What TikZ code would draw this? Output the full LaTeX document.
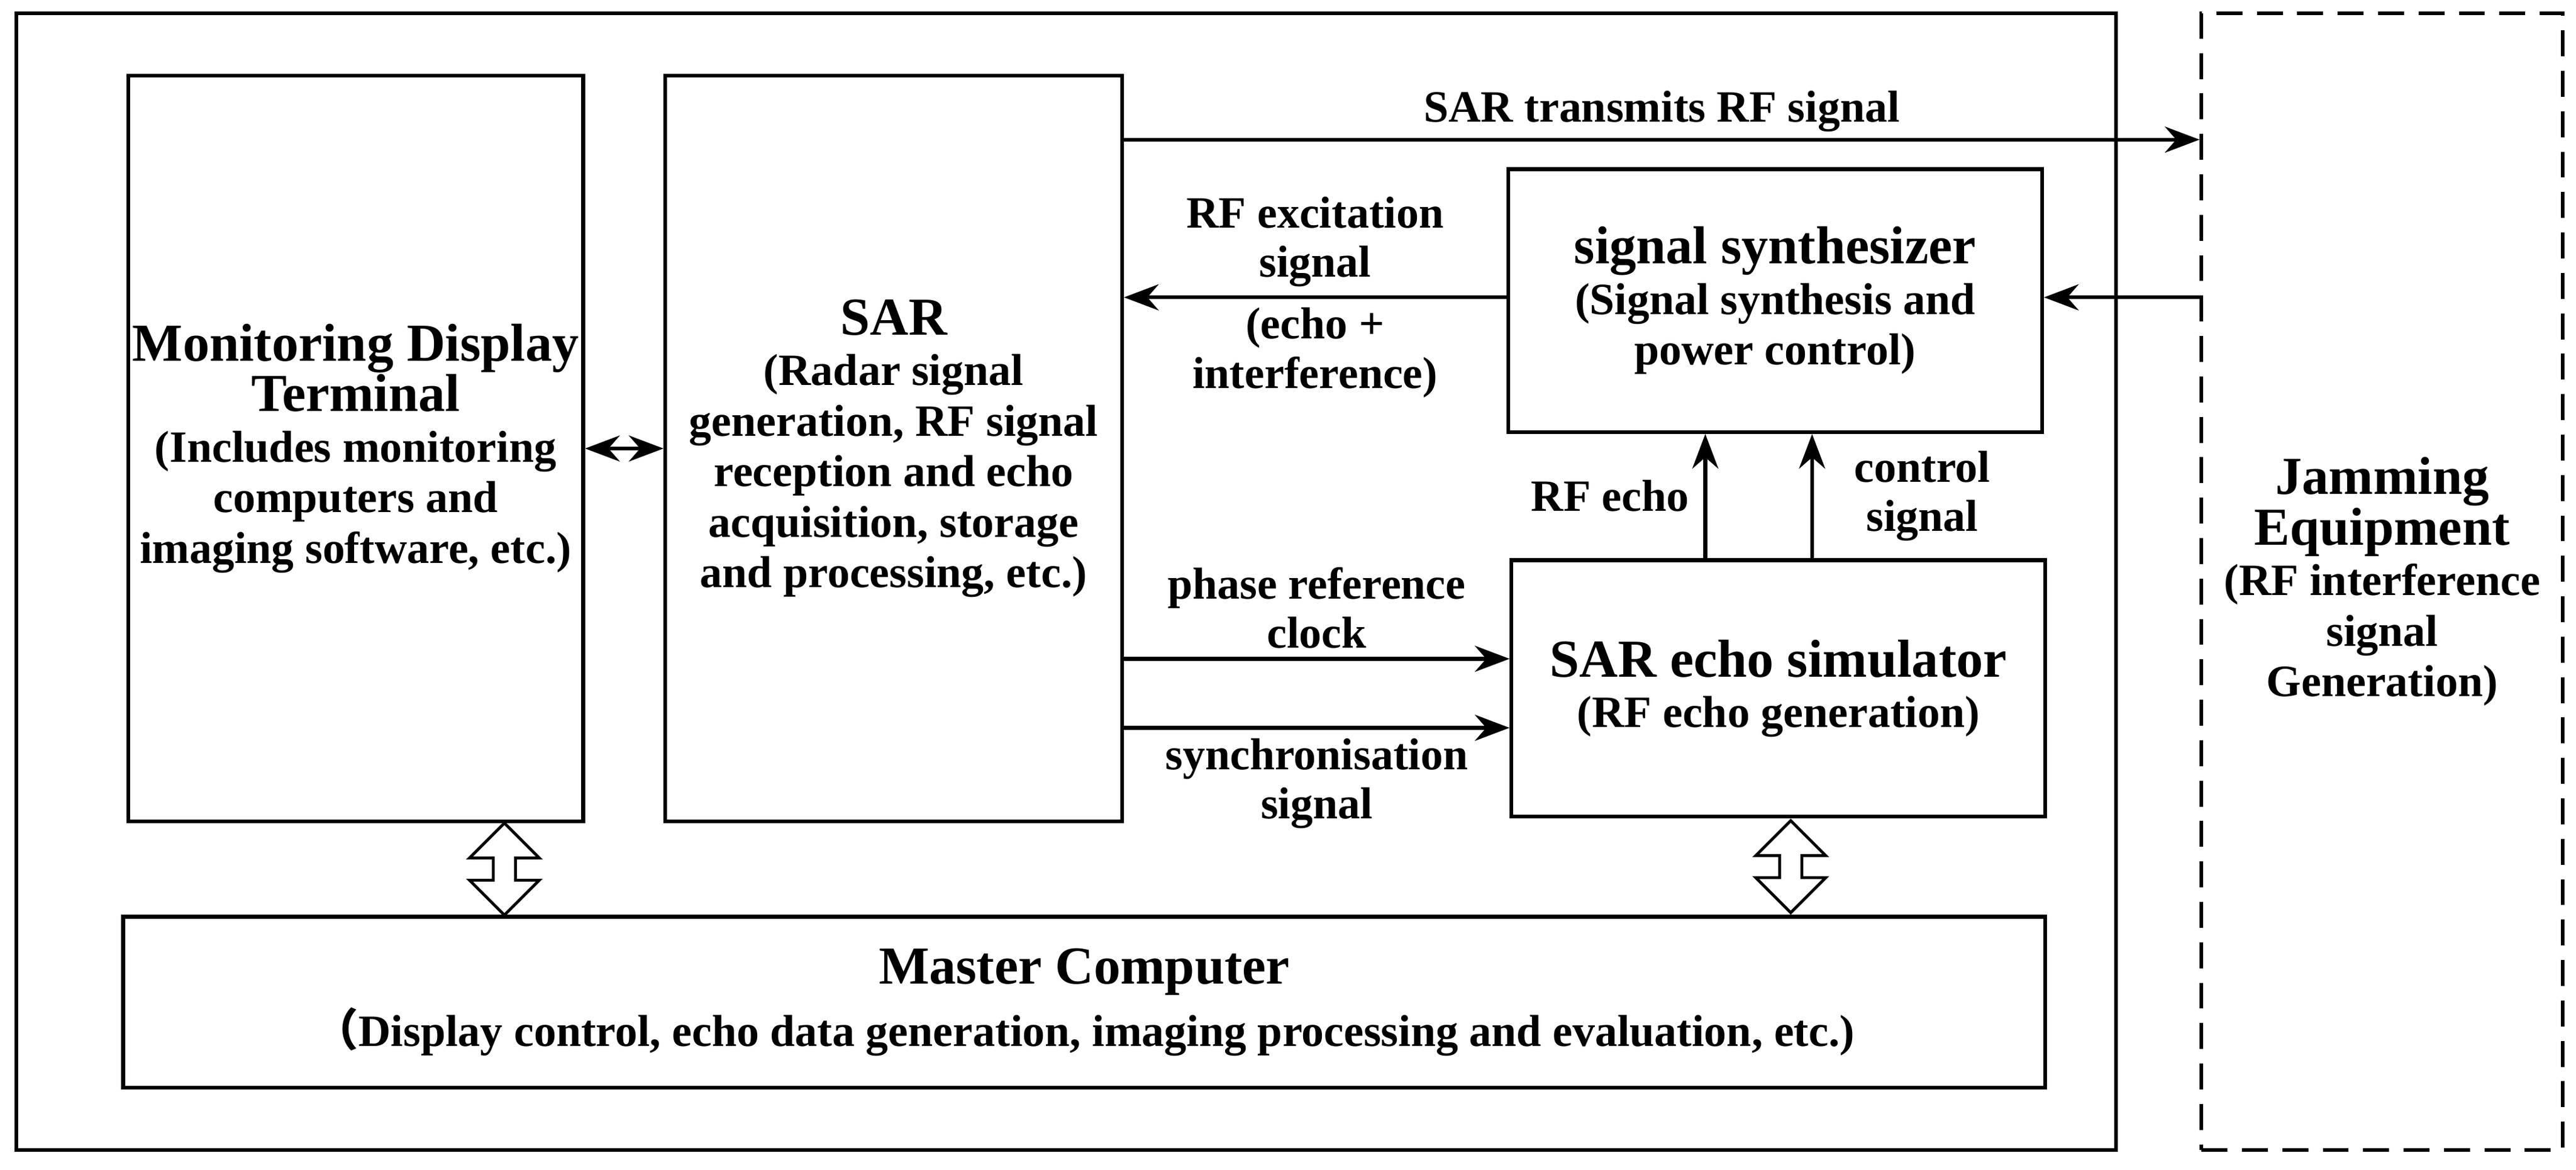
\documentclass[tikz,border=0pt]{standalone}
\usepackage{fontspec}
\setmainfont{Liberation Serif}
\newfontfamily\cjk{Noto Sans CJK SC}
\usetikzlibrary{shapes.arrows,arrows.meta}
\tikzset{
  blk/.style={draw, line width=1.3pt, align=center, inner sep=1pt, font=\bfseries\fontsize{15.5}{17.5}\selectfont},
  lbl/.style={align=center, inner sep=2pt, font=\bfseries\fontsize{15.5}{17}\selectfont},
  sig/.style={-{Stealth[length=12pt,width=9pt]}, line width=1.3pt},
  hollow/.style={double arrow, draw, line width=1pt, minimum width=0.85cm, double arrow head extend=0.15cm, minimum height=1.12cm, inner sep=1.5pt, shape border rotate=90}
}
\newcommand{\ttl}[1]{{\fontsize{18.5}{21}\selectfont #1}}
\begin{document}
\begin{tikzpicture}
  \useasboundingbox (0,0) rectangle (31.36,-14.24);
  % frames
  \draw[line width=1.3pt] (0.2,-0.16) rectangle (25.76,-14.0);
  \node[blk, dash pattern=on 9pt off 5pt, minimum width=4.4cm, minimum height=13.84cm] (jam) at (29.0,-7.08)
    {\ttl{Jamming}\\\ttl{Equipment}\\(RF interference\\signal\\Generation)};
  % blocks
  \node[blk, minimum width=5.54cm, minimum height=9.08cm] (mon) at (4.33,-5.46)
    {\ttl{Monitoring Display}\\\ttl{Terminal}\\(Includes monitoring\\computers and\\imaging software, etc.)};
  \node[blk, minimum width=5.56cm, minimum height=9.08cm] (sar) at (10.88,-5.46)
    {\ttl{SAR}\\(Radar signal\\generation, RF signal\\reception and echo\\acquisition, storage\\and processing, etc.)};
  \node[blk, minimum width=6.5cm, minimum height=3.2cm] (syn) at (21.61,-3.66)
    {\ttl{signal synthesizer}\\(Signal synthesis and\\power control)};
  \node[blk, minimum width=6.5cm, minimum height=3.12cm] (sim) at (21.65,-8.38)
    {\ttl{SAR echo simulator}\\(RF echo generation)};
  \node[blk, minimum width=23.4cm, minimum height=2.08cm] (mc) at (13.2,-12.2)
    {\ttl{Master Computer}\\[4pt]{\cjk （}Display control, echo data generation, imaging processing and evaluation, etc.)};
  % signal levels
  \coordinate (tx) at (0,-1.7);
  \coordinate (rx) at (0,-3.62);
  \coordinate (ph) at (0,-8.02);
  \coordinate (sy) at (0,-8.86);
  \coordinate (eL) at (20.76,0);
  \coordinate (eR) at (22.06,0);
  \draw[sig] (sar.east |- tx) -- node[lbl, above] {SAR transmits RF signal} (jam.west |- tx);
  \draw[sig] (jam.west |- rx) -- (syn.east |- rx);
  \draw[sig] (syn.west |- rx) -- (sar.east |- rx)
    node[lbl, midway, above=1pt] {RF excitation\\signal}
    node[lbl, midway, below=1pt] {(echo +\\interference)};
  \draw[sig] (sim.north -| eL) -- node[lbl, left=3pt] {RF echo} (syn.south -| eL);
  \draw[sig] (sim.north -| eR) -- node[lbl, right=12pt] {control\\signal} (syn.south -| eR);
  \draw[sig] (sar.east |- ph) -- node[lbl, above=1pt] {phase reference\\clock} (sim.west |- ph);
  \draw[sig] (sar.east |- sy) -- node[lbl, below=1pt] {synchronisation\\signal} (sim.west |- sy);
  \draw[{Stealth[length=12pt,width=9pt]}-{Stealth[length=12pt,width=9pt]}, line width=1.3pt] (mon.east) -- (sar.west);
  % links to master computer
  \node[hollow] (hm) at (6.14,-10.58) {};
  \node[hollow] (hs) at (21.8,-10.55) {};
\end{tikzpicture}
\end{document}
